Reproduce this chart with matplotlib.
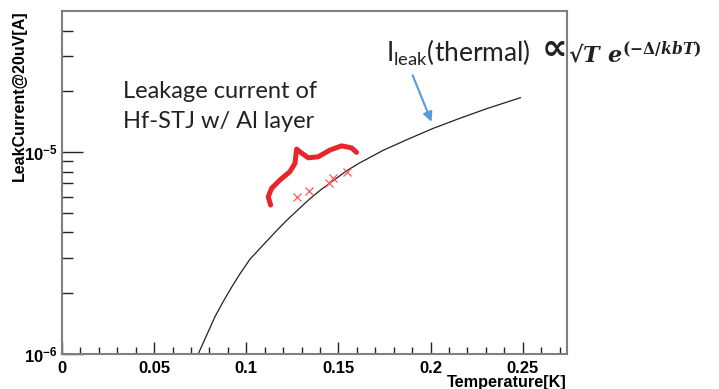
import matplotlib
matplotlib.use("Agg")
import matplotlib.pyplot as plt
from matplotlib.ticker import FixedLocator, MultipleLocator, FuncFormatter, NullFormatter
import numpy as np

plt.rcParams['mathtext.fontset'] = 'custom'
plt.rcParams['mathtext.it'] = 'DejaVu Serif:italic:bold'
plt.rcParams['mathtext.rm'] = 'DejaVu Serif:bold'

# thermal leakage curve
temp_curve = [0.0739, 0.0785, 0.0830, 0.0875, 0.0920, 0.0965, 0.1020, 0.1083, 0.1137,
              0.1164, 0.1218, 0.1290, 0.1341, 0.1399, 0.1544, 0.1616, 0.1742, 0.1869,
              0.2013, 0.2158, 0.2303, 0.2487]
leak_curve = [1.00e-6, 1.24e-6, 1.53e-6, 1.82e-6, 2.14e-6, 2.49e-6, 2.95e-6, 3.40e-6, 3.84e-6,
              4.08e-6, 4.58e-6, 5.28e-6, 5.83e-6, 6.45e-6, 8.08e-6, 8.85e-6, 1.02e-5, 1.15e-5,
              1.31e-5, 1.47e-5, 1.64e-5, 1.86e-5]

# measured points (red crosses)
temp_meas = [0.1276, 0.1341, 0.1449, 0.1471, 0.1547]
leak_meas = [6.01e-6, 6.41e-6, 7.05e-6, 7.46e-6, 7.99e-6]

# hand drawn red brace
brace_t = [0.1132, 0.1119, 0.1137, 0.1182, 0.1236, 0.1264, 0.1269, 0.1273, 0.1291,
           0.1336, 0.1390, 0.1453, 0.1517, 0.1571, 0.1598]
brace_i = [5.47e-6, 6.01e-6, 6.61e-6, 7.27e-6, 7.99e-6, 8.79e-6, 9.66e-6, 1.035e-5, 1.003e-5,
           9.37e-6, 9.48e-6, 1.023e-5, 1.074e-5, 1.050e-5, 9.97e-6]

W, H = 719, 389
fig = plt.figure(figsize=(W / 100, H / 100), dpi=100)
ax = fig.add_axes([62 / W, 1 - 354 / H, (567 - 62) / W, (354 - 11) / H])

ax.plot(temp_curve, leak_curve, color='#222222', lw=0.9)
ax.plot(temp_meas, leak_meas, ls='none', marker='x', ms=6, mew=0.9, color='#ff5a5a')
ax.plot(brace_t, brace_i, color='#e8252a', lw=3.6, solid_capstyle='round', solid_joinstyle='round')

ax.set_yscale('log')
ax.set_xlim(0, 0.274)
ax.set_ylim(1e-6, 5e-5)

ax.xaxis.set_major_locator(MultipleLocator(0.05))
ax.xaxis.set_minor_locator(MultipleLocator(0.01))
ax.xaxis.set_major_formatter(FuncFormatter(lambda v, p: '0' if abs(v) < 1e-9 else ('%g' % round(v, 3))))
ax.yaxis.set_major_locator(FixedLocator([1e-6, 1e-5]))
ax.yaxis.set_minor_locator(FixedLocator([k * 1e-6 for k in range(2, 10)] + [k * 1e-5 for k in range(2, 5)]))
ax.yaxis.set_minor_formatter(NullFormatter())
ax.yaxis.set_major_formatter(FuncFormatter(lambda v, p: r'$\mathregular{10^{%d}}$' % round(np.log10(v))))

ax.tick_params(axis='x', which='major', direction='in', length=9, width=1, color='#222222', pad=5)
ax.tick_params(axis='x', which='minor', direction='in', length=5, width=1, color='#222222')
ax.tick_params(axis='y', which='major', direction='in', length=15, width=1, color='#222222', pad=3)
ax.tick_params(axis='y', which='minor', direction='in', length=8, width=1, color='#222222')
for lab in ax.get_xticklabels() + ax.get_yticklabels():
    lab.set_fontfamily('Liberation Sans')
    lab.set_fontweight('bold')
    lab.set_fontsize(12)
for s in ax.spines.values():
    s.set_color('#7f7f7f')
    s.set_linewidth(1.5)

# ROOT style axis titles at the axis ends
fig.text(567 / W, 1 - 387.5 / H, 'Temperature[K]', fontfamily='Liberation Sans', fontweight='bold',
         fontsize=11.7, ha='right', va='baseline')
fig.text(19 / W, 1 - 10 / H, 'LeakCurrent@20uV[A]', fontfamily='Liberation Sans', fontweight='bold',
         fontsize=11.5, ha='center', va='top', rotation=90)

# annotation text
fig.text(123 / W, 1 - 98 / H, 'Leakage current of', fontfamily='Lato',
         fontsize=17, color='#222222', va='baseline')
fig.text(123 / W, 1 - 128 / H, 'Hf-STJ w/ Al layer', fontfamily='Lato',
         fontsize=17, color='#222222', va='baseline')
fig.text(386 / W, 1 - 62 / H, r'I$_{\mathregular{leak}}$(thermal)', fontfamily='Lato',
         fontsize=19, color='#222222', va='baseline')
fig.text(542 / W, 1 - 59 / H, '\u221d', fontfamily='DejaVu Sans', fontsize=26,
         color='#222222', va='baseline', fontweight='bold')
fig.text(568 / W, 1 - 62 / H, '\u221a$\\mathit{T\\ e}^{\\mathit{(-\u0394/kbT)}}$', fontfamily='DejaVu Serif',
         fontsize=16, color='#222222', va='baseline', fontweight='bold')

ax.annotate('', xy=(0.2005, 1.413e-5), xytext=(0.1902, 2.405e-5),
            arrowprops=dict(arrowstyle='-|>', color='#5b9bd5', lw=1.5, mutation_scale=14,
                            shrinkA=0, shrinkB=0))

fig.savefig('out.png', dpi=100)
